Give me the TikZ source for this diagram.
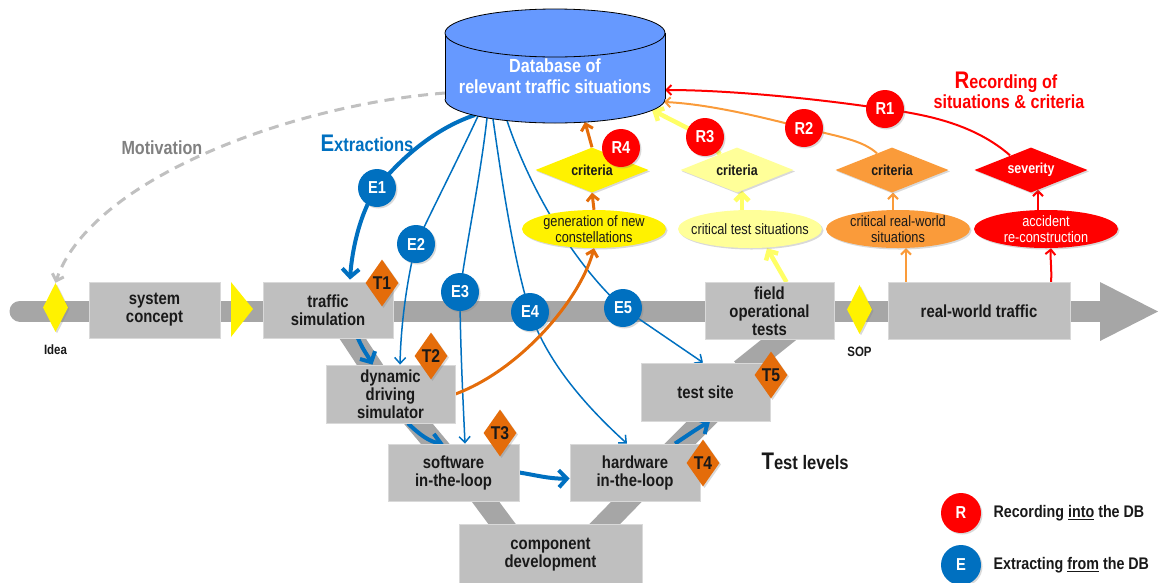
\documentclass[tikz,border=0pt]{standalone}
\usepackage{fontspec}
\setmainfont{Liberation Sans}[FakeStretch=0.85]
\usetikzlibrary{shapes.geometric,arrows.meta,shadows,calc}
\definecolor{boxgray}{HTML}{BFBFBF}
\definecolor{bargray}{HTML}{A6A6A6}
\definecolor{dbblue}{HTML}{6699FF}
\definecolor{eblue}{HTML}{0070C0}
\definecolor{dorange}{HTML}{E46C0A}
\definecolor{lorange}{HTML}{FA9B3A}
\definecolor{lyellow}{HTML}{FFFF99}
\definecolor{ayellow}{HTML}{FFFF66}
\definecolor{rred}{HTML}{FF0000}
\definecolor{motgray}{HTML}{C0C0C0}
\definecolor{txtgray}{HTML}{808080}
\newcommand\myfs[2]{\fontsize{#1}{#2}\selectfont}
\pgfdeclarelayer{bg}
\pgfdeclarelayer{conn}
\pgfsetlayers{bg,conn,main}
\tikzset{
  shad/.style={drop shadow={opacity=0.3,shadow xshift=1.5pt,shadow yshift=-1.5pt}},
  stage/.style={rectangle, fill=boxgray, draw=boxgray!60!white, line width=0.8pt, align=center, inner sep=0pt, font=\bfseries\myfs{17.5}{18}, text=black!90},
  band/.style={bargray, line width=22pt},
  tdia/.style={diamond, fill=dorange, minimum width=33pt, minimum height=47pt, inner sep=0pt, font=\bfseries\myfs{18.5}{18}, text=black!90, shad},
  mdia/.style={diamond, fill=yellow, minimum width=25pt, minimum height=49pt, inner sep=0pt, shad},
  crit/.style={diamond, shape aspect=2.5, minimum width=113pt, minimum height=45pt, inner sep=0pt, font=\bfseries\myfs{14.6}{15}, text=black!90, shad},
  situ/.style={ellipse, minimum width=144pt, minimum height=38pt, inner xsep=-14pt, inner ysep=-6pt, align=center, font=\myfs{15}{16}, text=black!90, shad},
  rc/.style={circle, fill=rred, minimum size=38pt, inner sep=0pt, text=white, font=\bfseries\myfs{17.3}{17}, shad},
  ec/.style={rc, fill=eblue},
  small/.style={font=\bfseries\myfs{13.5}{14}, text=black!90},
  eline/.style={eblue, line width=1.5pt, -{Straight Barb[length=6pt,width=11pt]}},
  ethick/.style={eblue, line width=4pt, -{Straight Barb[length=8pt,width=17pt]}},
  oline/.style={dorange, line width=3pt, -{Straight Barb[length=6pt,width=12pt]}},
  yline/.style={ayellow, line width=4.5pt, -{Straight Barb[length=7pt,width=14pt]}},
  lline/.style={lorange, line width=2pt, -{Straight Barb[length=5pt,width=10pt]}},
  rline/.style={rred, line width=2pt, -{Straight Barb[length=5pt,width=10pt]}},
  motline/.style={motgray, line width=3pt, dash pattern=on 10pt off 7pt, -{Straight Barb[length=6pt,width=12pt]}}
}
\begin{document}
\begin{tikzpicture}[x=1pt,y=-1pt]
\useasboundingbox (0,0) rectangle (1159,582);
% ---------- timeline and V bands
\begin{pgfonlayer}{bg}
\draw[bargray, line width=21pt, line cap=round] (20,311) -- (1100,311);
\fill[bargray] (1100,282) -- (1158,311.5) -- (1100,341) -- cycle;
\draw[band] (345,327) -- (376,374);
\draw[band] (411,415) -- (442,452);
\draw[band] (479,493) -- (508,532);
\draw[band] (635,493) -- (597,532);
\draw[band] (672,452) -- (711,413);
\draw[band] (791,330) -- (741,370);
\end{pgfonlayer}
% ---------- database cylinder
\fill[dbblue] (445,33) rectangle (665,99);
\fill[dbblue] (555,99) ellipse [x radius=110, y radius=24];
\draw[line width=0.8pt] (445,33) -- (445,99);
\draw[line width=0.8pt] (665,33) -- (665,99);
\begin{scope}
\clip (440,99) rectangle (670,130);
\draw[line width=0.8pt] (555,99) ellipse [x radius=110, y radius=24];
\end{scope}
\draw[line width=0.8pt, fill=dbblue] (555,33) ellipse [x radius=110, y radius=24];
\node[align=center, text=white, font=\bfseries\myfs{19}{20.5}] (db) at (555,76) {Database of\\relevant traffic situations};
\coordinate (dbMot) at (445,93);
\coordinate (dbE1) at (475,115);
\coordinate (dbE2) at (478,116);
\coordinate (dbE3) at (487,118);
\coordinate (dbE4) at (493,119);
\coordinate (dbE5) at (507,120.5);
\coordinate (dbR1) at (665,90);
\coordinate (dbR2) at (664,102);
\coordinate (dbR3) at (652,110);
\coordinate (dbR4) at (585,122);
% ---------- stages
\node[stage, minimum width=131pt, minimum height=56pt] (syscon) at (154.5,310) {system\\concept};
\node[stage, minimum width=130pt, minimum height=56pt] (trafsim) at (328,310) {traffic\\simulation};
\node[stage, minimum width=129pt, minimum height=58pt] (dds) at (390.5,394) {dynamic\\driving\\simulator};
\node[stage, minimum width=131pt, minimum height=57pt] (sil) at (453.5,472.5) {software\\in-the-loop};
\node[stage, minimum width=130pt, minimum height=57pt] (hil) at (635,472.5) {hardware\\in-the-loop};
\node[stage, minimum width=183pt, minimum height=62pt] (comp) at (550.5,555) {component\\development};
\node[stage, minimum width=129pt, minimum height=58pt] (tsite) at (705.5,392) {test site};
\node[stage, minimum width=129pt, minimum height=57pt] (fot) at (769.5,311) {field\\operational\\tests};
\node[stage, minimum width=182pt, minimum height=57pt] (rwt) at (979,311) {real-world traffic};
\fill[yellow] (231,282) -- (253,309) -- (231,337) -- cycle;
% ---------- milestones
\node[mdia] (idea) at (55.5,307.5) {};
\node[small] (idealab) at (55.5,350) {Idea};
\node[mdia] (sop) at (859.5,309.5) {};
\node[small] (soplab) at (859.5,352) {SOP};
% ---------- test level diamonds
\node[tdia] (T1) at (382,283) {T1};
\node[tdia] (T2) at (431,356) {T2};
\node[tdia] (T3) at (500,433) {T3};
\node[tdia] (T4) at (703,463) {T4};
\node[tdia] (T5) at (771,375) {T5};
% ---------- situations and criteria
\node[situ, fill=yellow] (gen) at (594,229) {generation of new\\constellations};
\node[situ, fill=lyellow] (crittest) at (750,229) {critical test situations};
\node[situ, fill=lorange] (critrw) at (898,229) {critical real-world\\situations};
\node[situ, fill=rred, text=white] (accid) at (1046,229) {accident\\re-construction};
\node[crit, fill=yellow] (crit4) at (592,170) {criteria};
\node[crit, fill=lyellow] (crit3) at (737,170) {criteria};
\node[crit, fill=lorange] (crit2) at (892,170) {criteria};
\node[crit, fill=rred, text=white] (sev) at (1031,170) {severity};
% ---------- circles
\node[rc] (R4) at (621,148) {R4};
\node[rc] (R3) at (705,137) {R3};
\node[rc] (R2) at (804,128) {R2};
\node[rc] (R1) at (885,109) {R1};
\node[ec] (E1) at (377,188) {E1};
\node[ec] (E2) at (416,244) {E2};
\node[ec] (E3) at (460,292) {E3};
\node[ec] (E4) at (530,312) {E4};
\node[ec] (E5) at (623,308) {E5};
% ---------- labels
\node[anchor=base west, text=txtgray, font=\bfseries\myfs{19}{19}] (motlab) at (118,154) {Motivation};
\node[anchor=base west, text=eblue, font=\bfseries] (extlab) at (317,151) {{\myfs{24}{24}E}{\myfs{19.5}{19.5}xtractions}};
\node[anchor=base west, text=black!90, font=\bfseries] (testlab) at (758,469) {{\myfs{24}{24}T}{\myfs{19.5}{19.5}est levels}};
\node[anchor=base, text=rred, font=\bfseries\myfs{19}{19}] (rec1) at (1006,88) {{\myfs{24}{24}R}ecording of};
\node[anchor=base, text=rred, font=\bfseries\myfs{19}{19}] (rec2) at (1009,108) {situations \& criteria};
% ---------- legend
\node[rc, minimum size=40pt] (legR) at (961,513) {R};
\node[anchor=west, font=\bfseries\myfs{16.8}{17}, text=black!90] (legRt) at (990,513) {Recording \underline{into} the DB};
\node[ec, minimum size=40pt] (legE) at (961,565) {E};
\node[anchor=west, font=\bfseries\myfs{16.8}{17}, text=black!90] (legEt) at (990,565) {Extracting \underline{from} the DB};
% ---------- connectors
\begin{pgfonlayer}{conn}
\draw[motline] (dbMot) .. controls (290,105) and (90,180) .. (idea.north);
\draw[ethick] (dbE1) .. controls (430,130) and (395,165) .. (E1.center) .. controls (360,212) and (352,250) .. ([xshift=22pt,yshift=2pt]trafsim.north);
\draw[eline] (dbE2) .. controls (460,155) and (432,210) .. (E2.center) .. controls (408,275) and (401,320) .. ([xshift=9.5pt]dds.north);
\draw[eline] (dbE3) .. controls (480,180) and (466,245) .. (E3.center) .. controls (460,340) and (463,400) .. ([xshift=11.5pt]sil.north);
\draw[eline] (dbE4) .. controls (503,190) and (515,265) .. (E4.center) .. controls (548,365) and (590,410) .. ([xshift=-8pt]hil.north);
\draw[eline] (dbE5) .. controls (530,190) and (575,265) .. (E5.center) -- ([xshift=-2.5pt]tsite.north);
\draw[ethick] ([xshift=30pt]trafsim.south) .. controls (363,350) and (368,356) .. ([xshift=-18pt]dds.north);
\draw[ethick] ([xshift=17.5pt]dds.south) .. controls (420,435) and (430,442) .. ([xshift=-10pt]sil.north);
\draw[ethick] (sil.east) .. controls (535,475) and (550,479) .. ([yshift=-6pt]hil.west);
\draw[ethick] ([xshift=40pt]hil.north) .. controls (685,437) and (698,428) .. ([xshift=4.5pt]tsite.south);
\draw[oline] (dds.east) .. controls (520,370) and (580,300) .. (gen.south);
\draw[oline] (gen.north) -- (crit4.south);
\draw[oline] (crit4.north) -- (dbR4);
\draw[yline] ([xshift=17pt]fot.north) -- ([xshift=17pt]crittest.south);
\draw[yline] ([xshift=-8pt]crittest.north) -- ([xshift=5pt,yshift=2pt]crit3.south);
\draw[yline] ([xshift=-17pt,yshift=-7pt]crit3.north) -- (R3.center) -- (dbR3);
\draw[lline] ([xshift=-73pt]rwt.north) -- ([xshift=8pt]critrw.south);
\draw[lline] ([xshift=-5pt]critrw.north) -- ([xshift=1pt]crit2.south);
\draw[lline] ([xshift=-15pt,yshift=-6pt]crit2.north) .. controls (862,140) and (840,137) .. (R2.center) .. controls (770,119) and (710,104) .. (dbR2);
\draw[rline] ([xshift=72pt]rwt.north) .. controls (1052,270) and (1050,258) .. ([xshift=5pt]accid.south);
\draw[rline] ([xshift=-8pt]accid.north) -- ([xshift=7pt,yshift=3pt]sev.south);
\draw[rline] ([xshift=-21pt,yshift=-8pt]sev.north) .. controls (975,125) and (930,115) .. (R1.center) .. controls (820,99) and (730,90) .. (dbR1);
\end{pgfonlayer}
\end{tikzpicture}
\end{document}
